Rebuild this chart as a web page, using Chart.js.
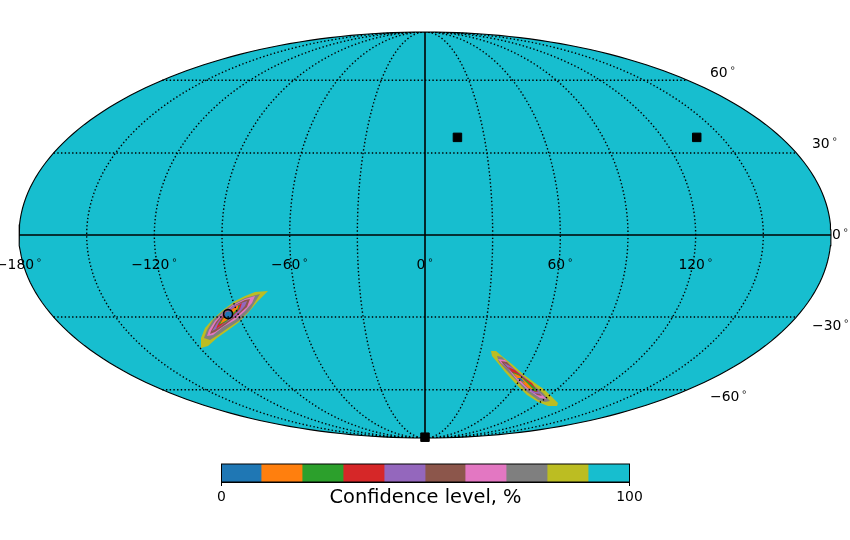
<!DOCTYPE html>
<html>
<head>
<meta charset="utf-8">
<title>Confidence map</title>
<script src="https://cdn.jsdelivr.net/npm/chart.js@4/dist/chart.umd.min.js"></script>
<style>
  html, body { margin: 0; padding: 0; background: #fff; }
  #wrap { position: relative; width: 850px; height: 540px; overflow: hidden; }
  #mapChart { position: absolute; left: 0; top: 0; }
  #barChart { position: absolute; left: 181px; top: 450px; }
</style>
</head>
<body>
<div id="wrap">
  <canvas id="mapChart" width="850" height="540"></canvas>
  <canvas id="barChart" width="490" height="70"></canvas>
</div>
<script>
// ---------- data ----------
// graticule, degrees
const meridianLons = [-150, -120, -90, -60, -30, 30, 60, 90, 120, 150];
const parallelLats = [-60, -30, 30, 60];
const lonTicks = [-180, -120, -60, 0, 60, 120];
const latTicks = [60, 30, 0, -30, -60];

// sources, [lon, lat] degrees
const squareSources = [[16.4, 36.0], [137.4, 36.0], [0, -88.6]];
const circleSources = [[-94.8, -28.9]];

// colour order runs from the 0% end of the bar to the 100% end
const levelColors = ['#1f77b4', '#ff7f0e', '#2ca02c', '#d62728', '#9467bd',
                     '#8c564b', '#e377c2', '#7f7f7f', '#bcbd22', '#17becf'];
const levelWidths = [9.7, 10.05, 10.05, 10.05, 10.05, 9.8, 10.05, 10.05, 10.05, 10.15];

// confidence regions in map plane units (half width 406, half height 203), outermost first
const westRings = [
  [[-157,-56],[-170,-57],[-180,-61],[-190,-66],[-202,-75],[-213,-85],[-220,-93],[-224,-103],[-224,-113],[-217,-111],[-208,-103],[-198,-96],[-187,-88],[-177,-78],[-167,-66]],
  [[-165,-59],[-180,-63],[-192,-69],[-202,-76],[-212,-85],[-218,-95],[-221,-103],[-215,-105],[-207,-100],[-197,-93],[-185,-85],[-175,-75]],
  [[-170,-61],[-180,-64],[-192,-70],[-202,-78],[-210,-86],[-216,-95],[-218,-101],[-212,-100],[-202,-92],[-190,-85],[-180,-76],[-173,-68]],
  [[-175,-64],[-180,-65],[-192,-71],[-202,-79],[-209,-87],[-214,-96],[-215,-99],[-210,-97],[-200,-90],[-188,-81],[-178,-72]],
  [[-178,-66],[-192,-71],[-202,-80],[-208,-88],[-213,-96],[-207,-93],[-197,-86],[-187,-79],[-180,-71]],
  [[-183,-68],[-193,-74],[-202,-81],[-207,-89],[-209,-94],[-202,-89],[-193,-82],[-185,-74]],
  [[-185,-70],[-195,-76],[-202,-83],[-207,-90],[-199,-87],[-192,-80],[-187,-75]],
  [[-187,-70],[-195,-76],[-202,-84],[-205,-89],[-198,-85],[-192,-78],[-187,-73]],
  [[-193,-76],[-199,-77],[-201,-82],[-196,-84],[-192,-80]]
];
const eastRings = [
  [[66,-116],[71,-116],[78,-122],[88,-130],[98,-139],[110,-148],[120,-155],[127,-162],[133,-168],[132,-171],[123,-171],[113,-167],[102,-160],[90,-148],[80,-137],[72,-127],[67,-121]],
  [[72,-121],[77,-122],[87,-132],[97,-141],[108,-150],[118,-158],[125,-166],[120,-167],[113,-165],[102,-157],[92,-146],[82,-136],[74,-127]],
  [[73,-124],[80,-125],[88,-133],[98,-142],[108,-152],[117,-160],[122,-164],[115,-163],[103,-155],[92,-145],[83,-134],[76,-128]],
  [[76,-126],[82,-127],[90,-135],[100,-143],[110,-153],[117,-161],[112,-160],[102,-152],[93,-143],[83,-134],[78,-129]],
  [[79,-128],[85,-131],[93,-137],[103,-145],[112,-154],[115,-159],[108,-158],[99,-150],[92,-142],[84,-134]],
  [[83,-132],[90,-135],[98,-142],[107,-148],[113,-157],[110,-157],[102,-151],[93,-142],[87,-137]],
  [[87,-137],[93,-139],[102,-146],[110,-153],[112,-157],[103,-153],[95,-145],[90,-141]],
  [[88,-138],[95,-141],[102,-148],[109,-155],[103,-153],[97,-147],[92,-143]],
  [[92,-143],[96,-143],[100,-148],[95,-145]]
];

// ---------- helpers ----------
const MAP_W = 406;
const MAP_H = 203;
const RAD = Math.PI / 180;
const TEXT = '#000';
const TICK_FONT = '13.9px "DejaVu Sans"';
const RING_FONT = '9.7px "DejaVu Sans"';

// Mollweide: solve 2t + sin 2t = pi sin(lat) for the auxiliary angle
function auxAngle(lat) {
  const target = Math.PI * Math.sin(lat * RAD);
  let lo = -Math.PI / 2, hi = Math.PI / 2;
  for (let i = 0; i < 50; i++) {
    const t = (lo + hi) / 2;
    if (2 * t + Math.sin(2 * t) < target) lo = t; else hi = t;
  }
  return (lo + hi) / 2;
}
const project = (lon, lat) => {
  const t = auxAngle(lat);
  return { x: MAP_W * (lon / 180) * Math.cos(t), y: MAP_H * Math.sin(t) };
};
// meridian as a curve: walk the auxiliary angle so the poles stay smooth
const meridian = (lon) => {
  const pts = [];
  for (let d = -90; d <= 90; d += 1.5) {
    pts.push({ x: MAP_W * (lon / 180) * Math.cos(d * RAD), y: MAP_H * Math.sin(d * RAD) });
  }
  return pts;
};
const ringPoints = (ring) => ring.map(([x, y]) => ({ x, y }));
const fmtNum = (v) => `${v < 0 ? '\u2212' : ''}${Math.abs(v)}`;

// ---------- map datasets (paint order, back to front) ----------
const layers = [];
const boundary = meridian(180).concat(meridian(-180).reverse());
layers.push({ data: boundary, fill: 'shape', backgroundColor: levelColors[9], borderWidth: 0 });

[westRings, eastRings].forEach((rings) => {
  rings.forEach((ring, i) => {
    layers.push({ data: ringPoints(ring), fill: 'shape', backgroundColor: levelColors[8 - i], borderWidth: 0 });
  });
});

const dotted = { borderColor: '#000', borderWidth: 1.4, borderDash: [1.4, 2.3] };
meridianLons.forEach((lon) => layers.push({ data: meridian(lon), ...dotted }));
parallelLats.forEach((lat) => layers.push({ data: [project(-180, lat), project(180, lat)], ...dotted }));

layers.push({ data: [project(-180, 0), project(180, 0)], borderColor: '#000', borderWidth: 1.6 });
layers.push({ data: meridian(0), borderColor: '#000', borderWidth: 1.6 });
layers.push({ data: boundary.concat([boundary[0]]), borderColor: '#000', borderWidth: 1.1, clip: false });

layers.push({
  data: circleSources.map(([lon, lat]) => project(lon, lat)),
  showLine: false, pointRadius: 4.5, pointBorderWidth: 1.6,
  pointBackgroundColor: 'transparent', pointBorderColor: '#000'
});
layers.push({
  data: squareSources.map(([lon, lat]) => project(lon, lat)),
  showLine: false, pointStyle: 'rect', pointRadius: 6,
  pointBackgroundColor: '#000', pointBorderColor: '#000', clip: false
});

const mapDatasets = layers.map((d, i) => ({
  showLine: true, pointRadius: 0, tension: 0, fill: false,
  ...d,
  order: layers.length - i
}));

// tick labels sit at fixed spots around the map, matplotlib geo axes style
const lonLabelDrop = 29;
const latLabelAnchors = { '60': [285, 163], '30': [387, 92], '0': [407, 1], '-30': [387, -90], '-60': [285, -161] };

// number plus a small raised ring, like $60^\circ$
function drawDegLabel(ctx, value, left, mid) {
  const txt = fmtNum(value);
  ctx.font = TICK_FONT;
  const w = ctx.measureText(txt).width;
  ctx.fillText(txt, left, mid + 5);
  ctx.font = RING_FONT;
  ctx.fillText('\u2218', left + w + 2, mid - 1);
}

const tickLabels = {
  id: 'tickLabels',
  afterDatasetsDraw(chart) {
    const { ctx, scales: { x, y } } = chart;
    ctx.save();
    ctx.fillStyle = TEXT;
    ctx.textBaseline = 'alphabetic';
    ctx.textAlign = 'left';
    lonTicks.forEach((lon) => {
      const p = project(lon, 0);
      ctx.font = TICK_FONT;
      const w = ctx.measureText(fmtNum(lon)).width + 8;
      drawDegLabel(ctx, lon, x.getPixelForValue(p.x) - w / 2, y.getPixelForValue(p.y) + lonLabelDrop);
    });
    latTicks.forEach((lat) => {
      const [ax, ay] = latLabelAnchors[lat];
      drawDegLabel(ctx, lat, x.getPixelForValue(ax), y.getPixelForValue(ay));
    });
    ctx.restore();
  }
};

new Chart(document.getElementById('mapChart'), {
  type: 'scatter',
  data: { datasets: mapDatasets },
  plugins: [tickLabels],
  options: {
    responsive: false,
    devicePixelRatio: 1,
    animation: false,
    layout: { padding: { left: 19, right: 19, top: 32, bottom: 102 } },
    plugins: { legend: { display: false }, tooltip: { enabled: false } },
    scales: {
      x: { type: 'linear', display: false, min: -MAP_W, max: MAP_W },
      y: { type: 'linear', display: false, min: -MAP_H, max: MAP_H }
    }
  }
});

// ---------- colour bar ----------
const barFrame = {
  id: 'barFrame',
  afterDatasetsDraw(chart) {
    const { ctx, chartArea: a } = chart;
    ctx.save();
    ctx.strokeStyle = '#000';
    ctx.lineWidth = 1;
    ctx.strokeRect(a.left, a.top, a.right - a.left, a.bottom - a.top);
    ctx.restore();
  }
};

new Chart(document.getElementById('barChart'), {
  type: 'bar',
  data: {
    labels: ['level'],
    datasets: levelWidths.map((w, i) => ({
      data: [w], backgroundColor: levelColors[i], borderWidth: 0,
      barPercentage: 1, categoryPercentage: 1
    }))
  },
  plugins: [barFrame],
  options: {
    indexAxis: 'y',
    responsive: false,
    devicePixelRatio: 1,
    animation: false,
    layout: { padding: { left: 40.5, right: 41.5, top: 14, bottom: 10 } },
    plugins: { legend: { display: false }, tooltip: { enabled: false } },
    scales: {
      y: { stacked: true, display: false },
      x: {
        stacked: true, min: 0, max: 100,
        // the layout caps an axis at half the canvas, the bar needs a taller one
        afterFit: (scale) => { scale.height = 28; },
        border: { display: true, color: '#000' },
        grid: { drawOnChartArea: false, drawTicks: true, tickLength: 4, color: '#000' },
        ticks: {
          stepSize: 100, maxRotation: 0, padding: 3, color: TEXT,
          font: { family: 'DejaVu Sans', size: 13.9 }
        },
        title: {
          display: true, text: 'Confidence level, %', color: TEXT,
          font: { family: 'DejaVu Sans', size: 19.4 },
          padding: { top: 0, bottom: 0 }
        }
      }
    }
  }
});
</script>
</body>
</html>
